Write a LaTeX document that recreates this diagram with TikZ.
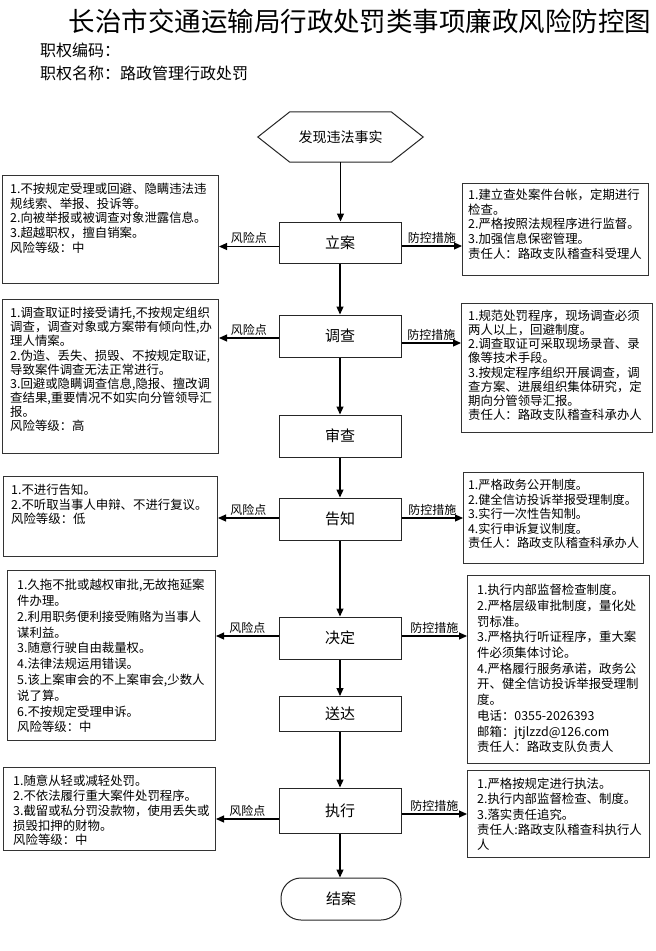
\documentclass[tikz,border=0pt]{standalone}
\usepackage{fontspec}
\setmainfont{Noto Sans CJK SC}
\usetikzlibrary{arrows.meta,calc}
\tikzset{
  mainbox/.style={draw=black!85, line width=1pt, minimum width=122pt, inner sep=0pt, font=\fontsize{15}{18}\selectfont},
  sidebox/.style={draw=black!80, line width=1pt, anchor=north west, inner sep=0pt},
  txt/.style={anchor=north west, inner sep=0pt, align=left},
  arr/.style={-{Triangle[length=8pt,width=7pt]}, line width=1.1pt, black},
  lab/.style={above, inner sep=2pt, font=\fontsize{12}{14}\selectfont},
}
\newcommand{\tf}[1]{\fontsize{12.4}{#1}\selectfont}
\begin{document}
\begin{tikzpicture}[x=1pt,y=1pt]
\path[fill=white, use as bounding box] (0,0) rectangle (656,-951);
% title
\node[inner sep=0pt, font=\fontsize{26.5}{30}\selectfont] (title) at (360,-21) {长治市交通运输局行政处罚类事项廉政风险防控图};
\node[anchor=west, inner sep=0pt, font=\fontsize{16}{18}\selectfont] (code) at (40,-50) {职权编码：};
\node[anchor=west, inner sep=0pt, font=\fontsize{16}{18}\selectfont] (name) at (40,-73) {职权名称：路政管理行政处罚};
% hexagon
\node[minimum width=165pt, minimum height=50pt, inner sep=0pt, font=\fontsize{14}{16}\selectfont] (H) at (340.5,-137) {发现违法事实};
\draw[black!85, line width=1pt] (H.west) -- ($(H.north west)+(32,0)$) -- ($(H.north east)+(-32,0)$) -- (H.east) -- ($(H.south east)+(-32,0)$) -- ($(H.south west)+(32,0)$) -- cycle;
% main column
\node[mainbox, minimum height=41pt] (A) at (340,-242.5) {立案};
\node[mainbox, minimum height=42pt] (B) at (340,-336) {调查};
\node[mainbox, minimum height=42pt] (C) at (340,-436) {审查};
\node[mainbox, minimum height=42pt] (D) at (340,-519) {告知};
\node[mainbox, minimum height=42pt] (E) at (340,-638) {决定};
\node[mainbox, minimum height=35pt] (F) at (340,-714) {送达};
\node[mainbox, minimum height=45pt] (G) at (340,-810.5) {执行};
\node[draw=black!85, line width=1pt, minimum width=120pt, minimum height=42pt, rounded corners=20pt, inner sep=0pt, font=\fontsize{15}{18}\selectfont] (K) at (341,-899) {结案};
\draw[arr] (H.south) -- (H.south |- A.north);
\draw[arr] (A) -- (B);
\draw[arr] (B) -- (C);
\draw[arr] (C) -- (D);
\draw[arr] (D) -- (E);
\draw[arr] (E) -- (F);
\draw[arr] (F) -- (G);
\draw[arr] (G.south) -- (G.south |- K.north);
% side boxes
\node[sidebox, minimum width=216pt, minimum height=108pt] (L1) at (2,-175) {};
\node[sidebox, minimum width=216pt, minimum height=154pt] (L2) at (2,-299) {};
\node[sidebox, minimum width=214pt, minimum height=80pt] (L3) at (3,-476) {};
\node[sidebox, minimum width=208pt, minimum height=170pt] (L4) at (7,-570) {};
\node[sidebox, minimum width=212pt, minimum height=83pt] (L5) at (3,-767) {};
\node[sidebox, minimum width=186pt, minimum height=92pt] (R1) at (462,-183) {};
\node[sidebox, minimum width=191pt, minimum height=129pt] (R2) at (461,-303) {};
\node[sidebox, minimum width=180pt, minimum height=91pt] (R3) at (463,-472) {};
\node[sidebox, minimum width=182pt, minimum height=188pt] (R4) at (467,-575) {};
\node[sidebox, minimum width=182pt, minimum height=87pt] (R5) at (467,-770) {};
% texts
\node[txt, font=\tf{14.6}] (L1t) at ($(L1.north west)+(8,-8)$) {1.不按规定受理或回避、隐瞒违法违\\规线索、举报、投诉等。\\2.向被举报或被调查对象泄露信息。\\3.超越职权，擅自销案。\\风险等级：中};
\node[txt, font=\tf{14.1}] (L2t) at ($(L2.north west)+(8,-8)$) {1.调查取证时接受请托,不按规定组织\\调查，调查对象或方案带有倾向性,办\\理人情案。\\2.伪造、丢失、损毁、不按规定取证,\\导致案件调查无法正常进行。\\3.回避或隐瞒调查信息,隐报、擅改调\\查结果,重要情况不如实向分管领导汇\\报。\\风险等级：高};
\node[txt, font=\tf{14.6}] (L3t) at ($(L3.north west)+(8,-8)$) {1.不进行告知。\\2.不听取当事人申辩、不进行复议。\\风险等级：低};
\node[txt, font=\tf{15.8}] (L4t) at ($(L4.north west)+(10,-9)$) {1.久拖不批或越权审批,无故拖延案\\件办理。\\2.利用职务便利接受贿赂为当事人\\谋利益。\\3.随意行驶自由裁量权。\\4.法律法规运用错误。\\5.该上案审会的不上案审会,少数人\\说了算。\\6.不按规定受理申诉。\\风险等级：中};
\node[txt, font=\tf{14.8}] (L5t) at ($(L5.north west)+(10,-8)$) {1.随意从轻或减轻处罚。\\2.不依法履行重大案件处罚程序。\\3.截留或私分罚没款物，使用丢失或\\损毁扣押的财物。\\风险等级：中};
\node[txt, font=\tf{14.6}] (R1t) at ($(R1.north west)+(6,-6)$) {1.建立查处案件台帐，定期进行\\检查。\\2.严格按照法规程序进行监督。\\3.加强信息保密管理。\\责任人：路政支队稽查科受理人};
\node[txt, font=\tf{14.1}] (R2t) at ($(R2.north west)+(7,-7)$) {1.规范处罚程序，现场调查必须\\两人以上，回避制度。\\2.调查取证可采取现场录音、录\\像等技术手段。\\3.按规定程序组织开展调查，调\\查方案、进展组织集体研究，定\\期向分管领导汇报。\\责任人：路政支队稽查科承办人};
\node[txt, font=\fontsize{12.2}{14.6}\selectfont] (R3t) at ($(R3.north west)+(5,-7)$) {1.严格政务公开制度。\\2.健全信访投诉举报受理制度。\\3.实行一次性告知制。\\4.实行申诉复议制度。\\责任人：路政支队稽查科承办人};
\node[txt, font=\tf{15.7}] (R4t) at ($(R4.north west)+(10,-9)$) {1.执行内部监督检查制度。\\2.严格层级审批制度，量化处\\罚标准。\\3.严格执行听证程序，重大案\\件必须集体讨论。\\4.严格履行服务承诺，政务公\\开、健全信访投诉举报受理制\\度。\\电话：0355-2026393\\邮箱：jtjlzzd@126.com\\责任人：路政支队负责人};
\node[txt, font=\tf{15.2}] (R5t) at ($(R5.north west)+(10,-8)$) {1.严格按规定进行执法。\\2.执行内部监督检查、制度。\\3.落实责任追究。\\责任人:路政支队稽查科执行人\\人};
% side arrows
\draw[arr] ([yshift=-4pt]A.west) -- ([yshift=-4pt]A.west -| L1.east) node[lab, midway] (a1) {风险点};
\draw[arr] ([yshift=-3.5pt]A.east) -- ([yshift=-3.5pt]A.east -| R1.west) node[lab, midway] (b1) {防控措施};
\draw[arr] ([yshift=-2pt]B.west) -- ([yshift=-2pt]B.west -| L2.east) node[lab, midway] (a2) {风险点};
\draw[arr] ([yshift=-7pt]B.east) -- ([yshift=-7pt]B.east -| R2.west) node[lab, midway] (b2) {防控措施};
\draw[arr] ([yshift=1pt]D.west) -- ([yshift=1pt]D.west -| L3.east) node[lab, midway] (a3) {风险点};
\draw[arr] ([yshift=1pt]D.east) -- ([yshift=1pt]D.east -| R3.west) node[lab, midway] (b3) {防控措施};
\draw[arr] ([yshift=2pt]E.west) -- ([yshift=2pt]E.west -| L4.east) node[lab, midway] (a4) {风险点};
\draw[arr] ([yshift=2pt]E.east) -- ([yshift=2pt]E.east -| R4.west) node[lab, midway] (b4) {防控措施};
\draw[arr] ([yshift=-8.5pt]G.west) -- ([yshift=-8.5pt]G.west -| L5.east) node[lab, midway] (a5) {风险点};
\draw[arr] ([yshift=-3.5pt]G.east) -- ([yshift=-3.5pt]G.east -| R5.west) node[lab, midway] (b5) {防控措施};
\end{tikzpicture}
\end{document}
